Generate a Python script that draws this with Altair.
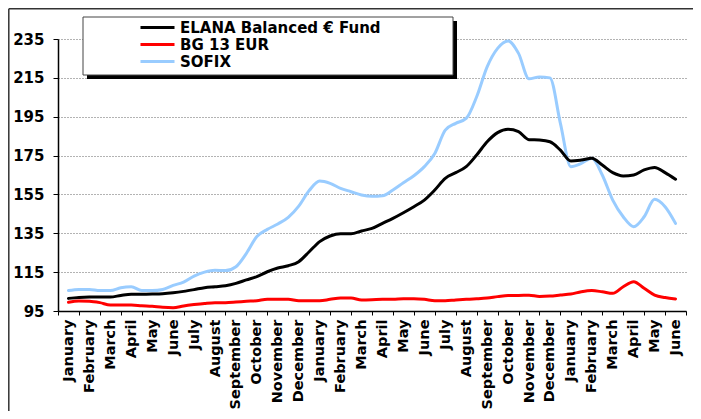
import json
import altair as alt
import pandas as pd

months = ["January", "February", "March", "April", "May", "June", "July", "August",
          "September", "October", "November", "December",
          "January", "February", "March", "April", "May", "June", "July", "August",
          "September", "October", "November", "December",
          "January", "February", "March", "April", "May", "June"]

series_names = ["ELANA Balanced € Fund", "BG 13 EUR", "SOFIX"]
series_colors = ["#000000", "#ff0000", "#99ccff"]

t_vals = [0.5, 1.0, 1.5, 2.0, 2.5, 3.0, 3.5, 4.0, 4.5, 5.0,
          5.5, 6.0, 6.5, 7.0, 7.5, 8.0, 8.5, 9.0, 9.5, 10.0,
          10.5, 11.0, 11.5, 12.0, 12.5, 13.0, 13.5, 14.0, 14.5, 15.0,
          15.5, 16.0, 16.5, 17.0, 17.5, 18.0, 18.5, 19.0, 19.5, 20.0,
          20.5, 21.0, 21.5, 22.0, 22.5, 23.0, 23.5, 24.0, 24.5, 25.0,
          25.5, 26.0, 26.5, 27.0, 27.5, 28.0, 28.5, 29.0, 29.5]

sofix = [105.5, 106.1, 106.1, 105.5, 105.5, 107.0, 107.5, 105.5, 105.5, 106.1,
         108.2, 109.9, 113.0, 115.0, 116.0, 115.8, 117.8, 124.7, 133.3, 137.0,
         139.8, 143.2, 149.0, 157.0, 161.9, 160.7, 158.1, 156.4, 154.7, 154.0,
         154.3, 157.3, 161.0, 164.6, 169.3, 176.1, 188.1, 191.6, 194.1, 205.3,
         220.7, 230.2, 234.0, 227.6, 214.5, 215.5, 215.0, 191.6, 169.3, 171.0,
         173.6, 165.0, 152.1, 143.5, 138.4, 143.5, 152.5, 148.7, 140.1]

elana = [101.5, 102.0, 102.2, 102.2, 102.2, 103.0, 103.6, 103.6, 103.7, 103.9,
         104.4, 105.1, 106.0, 107.0, 107.5, 108.0, 109.2, 111.0, 112.7, 115.2,
         117.1, 118.3, 120.4, 125.5, 130.7, 133.6, 134.8, 134.8, 136.2, 137.5,
         140.1, 142.7, 145.6, 148.7, 152.1, 157.3, 163.3, 166.2, 169.3, 175.3,
         182.1, 186.8, 188.5, 187.3, 183.2, 183.0, 182.1, 177.8, 172.2, 172.7,
         173.6, 170.1, 166.2, 164.5, 165.0, 167.6, 168.9, 166.2, 162.8]

bg13 = [99.5, 100.1, 100.0, 99.3, 98.1, 98.1, 98.1, 97.7, 97.4, 96.9,
        96.7, 97.6, 98.3, 98.9, 99.3, 99.3, 99.6, 100.0, 100.3, 101.0,
        101.0, 101.0, 100.3, 100.3, 100.3, 101.0, 101.7, 101.7, 100.7, 100.8,
        101.0, 101.0, 101.3, 101.3, 101.0, 100.3, 100.3, 100.7, 101.0, 101.3,
        101.7, 102.4, 103.0, 103.0, 103.1, 102.5, 102.7, 103.2, 103.7, 104.9,
        105.5, 104.9, 104.1, 107.5, 110.1, 106.7, 103.2, 101.9, 101.2]

y_ticks = [95, 115, 135, 155, 175, 195, 215, 235]

rows = []
for name, vals in [("SOFIX", sofix), ("BG 13 EUR", bg13), ("ELANA Balanced € Fund", elana)]:
    for t, v in zip(t_vals, vals):
        rows.append({"series": name, "t": t, "value": v})
df = pd.DataFrame(rows)

W, H = 628, 272
FONT = "DejaVu Sans"

label_expr = "datum.value < 30 ? " + json.dumps(months) + "[datum.value] : ''"

one = pd.DataFrame({"k": [0]})

frame_top = alt.Chart(one).mark_rule(color="#333333", strokeWidth=1.5).encode(
    x=alt.value(-49.2), x2=alt.value(W + 60), y=alt.value(-30.3)
)
frame_left = alt.Chart(one).mark_rule(color="#333333", strokeWidth=1.5).encode(
    x=alt.value(-49.2), y=alt.value(-30.3), y2=alt.value(H + 200)
)
shadow = alt.Chart(one).mark_rect(fill="black").encode(
    x=alt.value(29), x2=alt.value(399), y=alt.value(-18), y2=alt.value(40)
)
box = alt.Chart(one).mark_rect(fill="white", stroke="#444444", strokeWidth=1).encode(
    x=alt.value(25), x2=alt.value(395), y=alt.value(-22), y2=alt.value(36)
)

lines = alt.Chart(df).mark_line(interpolate="monotone", strokeCap="round", strokeJoin="round").encode(
    x=alt.X("t:Q", title=None,
            scale=alt.Scale(domain=[0, 30], nice=False, zero=False),
            axis=alt.Axis(values=list(range(31)), labelExpr=label_expr, labelAngle=-90,
                          labelAlign="right", labelBaseline="middle", labelOffset=10.5,
                          labelOverlap=False, labelFont=FONT, labelFontSize=14.5,
                          labelFontWeight="bold", labelColor="black", labelPadding=4,
                          tickSize=4, tickColor="black", domainColor="black",
                          domainWidth=1.5, grid=False)),
    y=alt.Y("value:Q", title=None,
            scale=alt.Scale(domain=[95, 235], nice=False, zero=False),
            axis=alt.Axis(values=y_ticks, labelFont=FONT, labelFontSize=15,
                          labelFontWeight="bold", labelColor="black", labelPadding=9,
                          tickSize=5, tickColor="black", domainColor="black",
                          domainWidth=1.5, grid=True, gridColor="#666666",
                          gridDash=[1, 2], gridWidth=1)),
    color=alt.Color("series:N",
                    scale=alt.Scale(domain=series_names, range=series_colors),
                    legend=alt.Legend(title=None, orient="none", legendX=91, legendY=-20,
                                      symbolType="M-2.43,0H2.43", symbolSize=196,
                                      symbolStrokeWidth=4, rowPadding=0, labelOffset=14,
                                      labelFont=FONT, labelFontSize=15,
                                      labelFontWeight="bold", labelColor="black",
                                      labelLimit=400, padding=0)),
    strokeWidth=alt.StrokeWidth("series:N",
                                scale=alt.Scale(domain=series_names, range=[3, 3, 3.5]),
                                legend=None),
)

chart = alt.layer(frame_top, frame_left, shadow, box, lines).properties(
    width=W, height=H,
    autosize=alt.AutoSizeParams(type="none"),
    padding={"left": 50, "top": 31, "right": 7, "bottom": 100},
    background="white",
).configure_view(stroke="transparent")

chart.save("out.html", embed_options={"renderer": "svg", "actions": False})
